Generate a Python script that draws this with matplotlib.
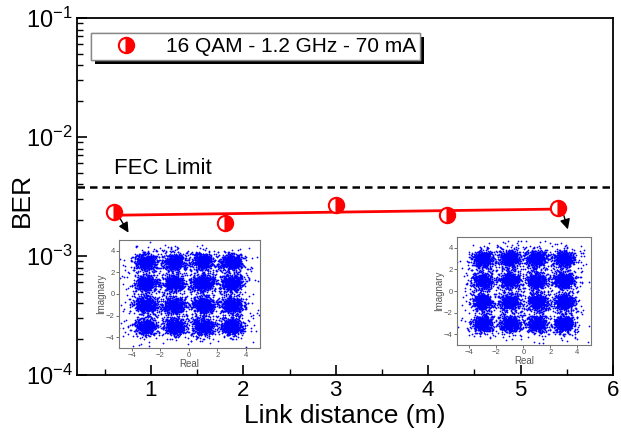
import numpy as np
import matplotlib
matplotlib.use("Agg")
import matplotlib.pyplot as plt
import matplotlib.patheffects as pe
from matplotlib.ticker import LogLocator, FixedLocator, MultipleLocator

plt.rcParams['font.family'] = ['Liberation Sans', 'DejaVu Sans']
plt.rcParams['mathtext.fontset'] = 'custom'
plt.rcParams['mathtext.rm'] = 'Liberation Sans'
plt.rcParams['mathtext.it'] = 'Liberation Sans'

# ---- data ----
distance = [0.6, 1.8, 3.0, 4.2, 5.4]
ber = [2.35e-3, 1.9e-3, 2.7e-3, 2.2e-3, 2.55e-3]
fec_limit = 3.8e-3
series_label = "16 QAM - 1.2 GHz - 70 mA"
x_ticks = [1, 2, 3, 4, 5, 6]
# constellation (16-QAM ideal levels)
qam_levels = [-3, -1, 1, 3]
noise_sigma = 0.38
outlier_sigma = 0.8
points_per_symbol = 500
outliers_per_symbol = 80

fig = plt.figure(figsize=(6.21, 4.36), dpi=100)
W, H = 621, 436

def ax_rect(l, t, r, b):
    return [l / W, 1 - b / H, (r - l) / W, (b - t) / H]

ax = fig.add_axes(ax_rect(77, 18, 613, 375))
ax.set_yscale('log')
ax.set_xlim(0.2, 6)
ax.set_ylim(1e-4, 1e-1)

# fit line
coef = np.polyfit(distance, ber, 1)
xf = np.array([distance[0], distance[-1]])
ax.plot(xf, np.polyval(coef, xf), color='red', lw=2, zorder=3)
ax.plot(distance, ber, linestyle='none', marker='o', markersize=11,
        fillstyle='right', markerfacecolor='red', markerfacecoloralt='white',
        markeredgecolor='red', markeredgewidth=1.5, label=series_label, zorder=4)
ax.axhline(fec_limit, color='black', ls=(0, (3, 2)), lw=1.8, zorder=2)
ax.text(0.6, 5.4e-3, "FEC Limit", fontsize=16, ha='left', va='center')

ax.xaxis.set_major_locator(FixedLocator(x_ticks))
ax.xaxis.set_minor_locator(MultipleLocator(0.5))
ax.yaxis.set_major_locator(LogLocator(base=10, numticks=10))
ax.yaxis.set_minor_locator(LogLocator(base=10, subs=np.arange(2, 10), numticks=20))
ax.tick_params(which='both', direction='in', top=False, right=False)
ax.tick_params(which='major', length=7, width=1.2, labelsize=16)
ax.tick_params(axis='y', which='major', labelsize=17, pad=3)
ax.tick_params(which='minor', length=4, width=1.0)
for s in ax.spines.values():
    s.set_linewidth(1.3)

ax.set_xlabel("Link distance (m)", fontsize=19, labelpad=2)
ax.set_ylabel("BER", fontsize=19, va='center')
ax.yaxis.set_label_coords(-0.103, 0.49)

leg = ax.legend(loc='upper left', bbox_to_anchor=(0.026, 0.958), fontsize=15,
                fancybox=False, edgecolor='#888888', framealpha=1,
                borderpad=0.2, handletextpad=0.4, handlelength=3.0, borderaxespad=0)
leg.get_frame().set_linewidth(1.0)
leg.get_frame().set_path_effects([pe.withSimplePatchShadow(offset=(3, -3), shadow_rgbFace='black', alpha=1.0), pe.Normal()])

# arrows
ax.annotate("", xy=(0.773, 1.5e-3), xytext=(0.643, 2.21e-3),
            arrowprops=dict(arrowstyle='-|>', color='black', lw=1.0, mutation_scale=15))
ax.annotate("", xy=(5.52, 1.59e-3), xytext=(5.46, 2.3e-3),
            arrowprops=dict(arrowstyle='-|>', color='black', lw=1.0, mutation_scale=15))

# constellations
rng = np.random.default_rng(7)

def constellation(rect, sigma):
    iax = fig.add_axes(rect)
    xs, ys = [], []
    for a in qam_levels:
        for b in qam_levels:
            xs.append(a + rng.normal(0, sigma, points_per_symbol))
            ys.append(b + rng.normal(0, sigma, points_per_symbol))
            xs.append(a + rng.normal(0, outlier_sigma, outliers_per_symbol))
            ys.append(b + rng.normal(0, outlier_sigma, outliers_per_symbol))
    xs = np.concatenate(xs); ys = np.concatenate(ys)
    iax.scatter(xs, ys, s=1.6, color='#0000ff', linewidths=0)
    iax.set_xlim(-4.9, 5.0)
    iax.set_ylim(-5, 5)
    iax.set_xticks([-4, -2, 0, 2, 4])
    iax.set_yticks([-4, -2, 0, 2, 4])
    iax.tick_params(labelsize=5.5, length=2, width=0.6, colors='#555555', pad=1)
    iax.set_xlabel("Real", fontsize=7, color='#555555', labelpad=0)
    iax.set_ylabel("Imagnary", fontsize=7, color='#555555', labelpad=0)
    for s in iax.spines.values():
        s.set_color('#777777'); s.set_linewidth(0.8)
    return iax

constellation(ax_rect(119, 240, 260, 348), noise_sigma)
constellation(ax_rect(457, 237, 591, 345), noise_sigma * 0.95)

fig.savefig("out.png", dpi=100)
